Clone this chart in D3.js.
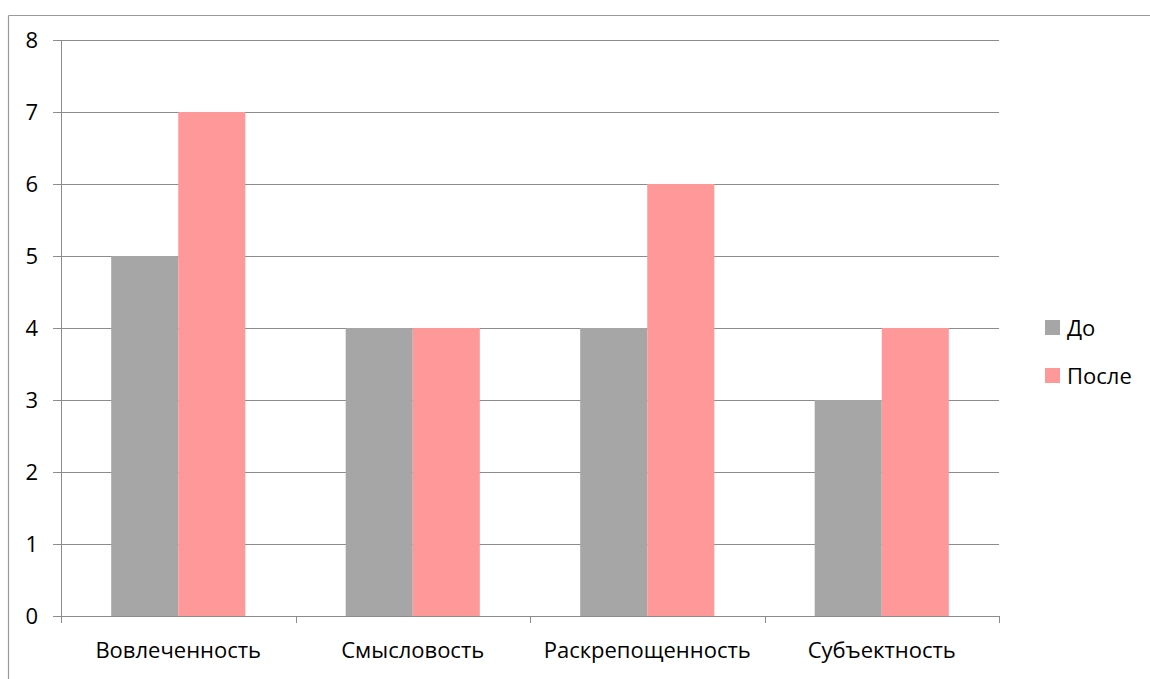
<!DOCTYPE html>
<html>
<head>
<meta charset="utf-8">
<script src="https://cdn.jsdelivr.net/npm/d3@7"></script>
<style>
  html, body { margin: 0; padding: 0; background: #fff; }
  svg { display: block; font-family: "Open Sans", "Noto Sans", sans-serif; }
</style>
</head>
<body>
<svg id="chart" width="1150" height="679"></svg>
<script>
// Chart data
const categories = ["Вовлеченность", "Смысловость", "Раскрепощенность", "Субъектность"];
const seriesNames = ["До", "После"];
const seriesBefore = [5, 4, 4, 3];
const seriesAfter = [7, 4, 6, 4];
const yTicks = [0, 1, 2, 3, 4, 5, 6, 7, 8];
const colors = ["#a6a6a6", "#ff9999"];

const svg = d3.select("#chart");
const W = 1150, H = 679;
const plot = { left: 61, right: 999, top: 40, bottom: 616 };
const fontSize = 22;

// Outer frame (top and left edges)
svg.append("line").attr("x1", 8.5).attr("x2", W).attr("y1", 15.5).attr("y2", 15.5)
  .attr("stroke", "#9a9a9a").attr("stroke-width", 1.2);
svg.append("line").attr("x1", 8.5).attr("x2", 8.5).attr("y1", 15.5).attr("y2", H)
  .attr("stroke", "#9a9a9a").attr("stroke-width", 1.2);

const x0 = d3.scaleBand().domain(categories).range([plot.left, plot.right]).paddingInner(0).paddingOuter(0);
const y = d3.scaleLinear().domain([0, 8]).range([plot.bottom, plot.top]);
const groupW = x0.bandwidth();
const barW = groupW * 0.286;
const x1 = d3.scaleBand().domain(seriesNames).range([(groupW - 2 * barW) / 2, (groupW + 2 * barW) / 2]);

// Horizontal gridlines with left tick stubs
svg.append("g").selectAll("line").data(yTicks).join("line")
  .attr("x1", plot.left - 8).attr("x2", plot.right)
  .attr("y1", d => Math.round(y(d)) + 0.5).attr("y2", d => Math.round(y(d)) + 0.5)
  .attr("stroke", "#8c8c8c").attr("stroke-width", 1);

// Y tick labels
svg.append("g").selectAll("text").data(yTicks).join("text")
  .attr("x", 38).attr("y", d => y(d))
  .attr("dy", "0.35em").attr("text-anchor", "end")
  .attr("font-size", fontSize).attr("fill", "#000")
  .text(d => d);

// Bars
const rows = categories.map((c, i) => ({ cat: c, vals: [seriesBefore[i], seriesAfter[i]] }));
const groups = svg.append("g").selectAll("g").data(rows).join("g")
  .attr("transform", d => `translate(${x0(d.cat)},0)`);
groups.selectAll("rect").data(d => d.vals.map((v, j) => ({ name: seriesNames[j], v, j })))
  .join("rect")
  .attr("x", d => x1(d.name))
  .attr("width", x1.bandwidth())
  .attr("y", d => y(d.v))
  .attr("height", d => y(0) - y(d.v))
  .attr("fill", d => colors[d.j]);

// Left axis line
svg.append("line").attr("x1", plot.left + 0.5).attr("x2", plot.left + 0.5)
  .attr("y1", plot.top).attr("y2", plot.bottom + 7)
  .attr("stroke", "#8c8c8c");

// Bottom axis with category ticks
const xAxis = svg.append("g");
xAxis.append("line").attr("x1", plot.left).attr("x2", plot.right)
  .attr("y1", Math.round(y(0)) + 0.5).attr("y2", Math.round(y(0)) + 0.5)
  .attr("stroke", "#8c8c8c");
const tickXs = categories.map(c => x0(c)).concat([plot.right]);
xAxis.selectAll("line.tick").data(tickXs).join("line").attr("class", "tick")
  .attr("x1", d => Math.round(d) + 0.5).attr("x2", d => Math.round(d) + 0.5)
  .attr("y1", plot.bottom).attr("y2", plot.bottom + 7)
  .attr("stroke", "#8c8c8c");
xAxis.selectAll("text").data(categories).join("text")
  .attr("x", d => x0(d) + groupW / 2)
  .attr("y", 658)
  .attr("text-anchor", "middle")
  .attr("font-size", fontSize).attr("fill", "#000")
  .text(d => d);

// Legend
const legend = svg.append("g").selectAll("g").data(seriesNames).join("g")
  .attr("transform", (d, i) => `translate(1045, ${320 + i * 48})`);
legend.append("rect").attr("width", 15).attr("height", 15)
  .attr("fill", (d, i) => colors[i]);
legend.append("text").attr("x", 22).attr("y", 8).attr("dy", "0.36em")
  .attr("font-size", fontSize).attr("fill", "#000")
  .text(d => d);
</script>
</body>
</html>
